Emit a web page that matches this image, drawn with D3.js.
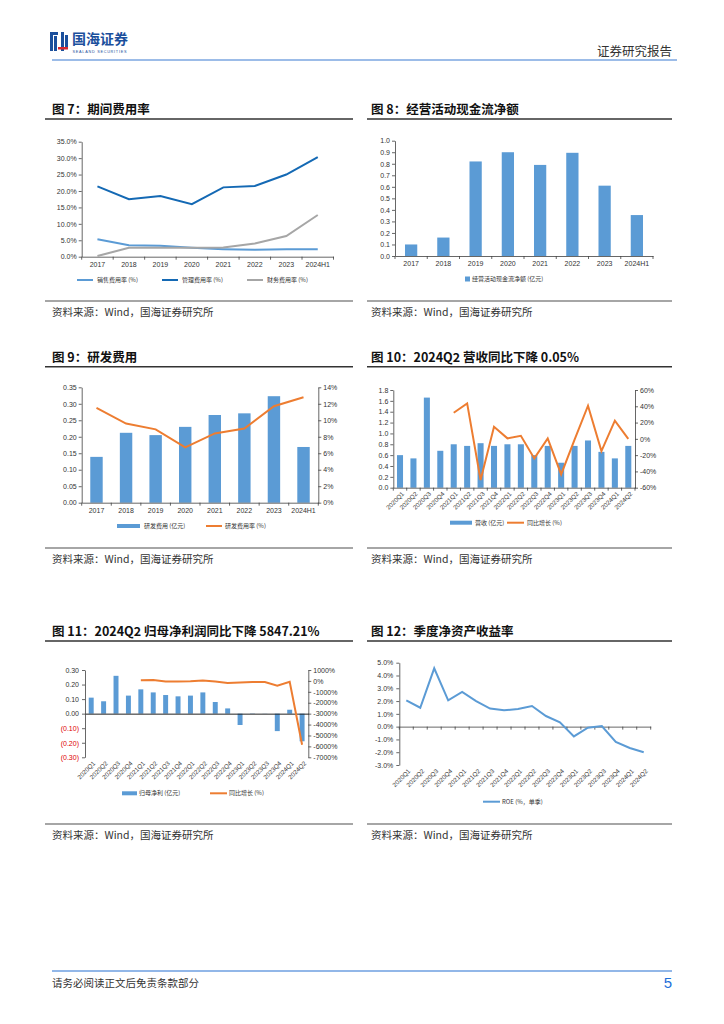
<!DOCTYPE html>
<html><head><meta charset="utf-8">
<script src="https://cdn.jsdelivr.net/npm/d3@7"></script>
<style>
body{margin:0;background:#fff;}
svg{display:block;}
</style></head><body>
<svg id="page" width="724" height="1024"></svg>
<script>
// ---------------- DATA ----------------
const years = ["2017","2018","2019","2020","2021","2022","2023","2024H1"];
const salesRate = [5.3,3.5,3.3,2.7,2.3,2.1,2.3,2.3];
const mgmtRate  = [21.4,17.5,18.5,16.0,21.1,21.5,25.0,30.3];
const finRate   = [0.2,2.7,2.7,2.7,2.8,4.0,6.3,12.7];
const rateTicks = [0,5,10,15,20,25,30,35];

const cfoValues = [0.10,0.16,0.82,0.90,0.79,0.895,0.61,0.355];
const cfoTicks = [0,0.1,0.2,0.3,0.4,0.5,0.6,0.7,0.8,0.9,1.0];

const rdExpense = [0.139,0.212,0.205,0.230,0.266,0.271,0.323,0.169];
const rdRate    = [11.5,9.6,8.9,6.7,8.4,9.0,11.7,12.8];
const rdLeftTicks = [0,0.05,0.10,0.15,0.20,0.25,0.30,0.35];
const rdRightTicks = [0,2,4,6,8,10,12,14];

const quarters = ["2020Q1","2020Q2","2020Q3","2020Q4","2021Q1","2021Q2","2021Q3","2021Q4",
  "2022Q1","2022Q2","2022Q3","2022Q4","2023Q1","2023Q2","2023Q3","2023Q4","2024Q1","2024Q2"];
const revenue = [0.60,0.54,1.66,0.68,0.80,0.77,0.82,0.77,0.80,0.80,0.60,0.77,0.46,0.77,0.87,0.66,0.54,0.77];
const revenueYoY = [null,null,null,null,32,43.6,-50.6,14.9,0.6,3.8,-24,0.6,-43.6,-1,40.7,-15,22.3,-0.05];
const revLeftTicks = [0,0.2,0.4,0.6,0.8,1.0,1.2,1.4,1.6,1.8];
const revRightTicks = [-60,-40,-20,0,20,40,60];

const netProfit = [0.11,0.085,0.26,0.124,0.167,0.146,0.128,0.119,0.124,0.146,0.08,0.036,-0.078,0.002,0.001,-0.12,0.027,-0.19];
const netProfitYoY = [null,null,null,null,60,90,-60,-60,-30,30,-60,-180,-150,-100,-100,-430,-90,-5847.21];
const npLeftTicks = [-0.3,-0.2,-0.1,0,0.1,0.2,0.3];
const npRightTicks = [-7000,-6000,-5000,-4000,-3000,-2000,-1000,0,1000];

const roe = [2.06,1.48,4.56,2.06,2.71,2.0,1.41,1.28,1.38,1.61,0.83,0.34,-0.76,-0.08,0.05,-1.2,-1.67,-2.0];
const roeTicks = [-3,-2,-1,0,1,2,3,4,5];

// ---------------- STYLE ----------------
const svg = d3.select("#page");
const AX = "#404040";
const NUM = "'Liberation Sans', Arial, sans-serif";
const CJK = "'Noto Sans CJK SC', sans-serif";
const BLUE = "#5B9BD5", DBLUE = "#1469B4", GRAY = "#A6A6A6", ORANGE = "#ED7D31";

function styleAxis(g, size){
  g.select(".domain").attr("stroke", AX).attr("stroke-width", 0.8);
  g.selectAll(".tick line").attr("stroke", AX).attr("stroke-width", 0.8);
  g.selectAll(".tick text").attr("fill", "#333").attr("font-size", size || 7).attr("font-family", NUM);
  return g;
}
function bandTicks(g, x, y, len){
  const r0 = x.range()[0], st = x.step();
  g.append("g").selectAll("line").data(d3.range(x.domain().length + 1)).join("line")
    .attr("x1", i => r0 + i * st).attr("x2", i => r0 + i * st)
    .attr("y1", y).attr("y2", y + len).attr("stroke", AX).attr("stroke-width", 0.8);
}
function rotateLabels(g){
  g.selectAll(".tick text").attr("x", 0).attr("y", 0).attr("dy", "0.35em")
    .attr("transform", "translate(3,5) rotate(-45)").style("text-anchor", "end");
}
function legendText(x, y, t){
  svg.append("text").attr("x", x).attr("y", y).attr("dy", "0.35em").attr("font-family", CJK)
    .attr("font-size", 6).attr("fill", "#333").text(t);
}
function legendLine(x0, x1, y, c){
  svg.append("line").attr("x1", x0).attr("x2", x1).attr("y1", y).attr("y2", y).attr("stroke", c).attr("stroke-width", 2);
}
function legendRect(x0, w, y, h, c){
  svg.append("rect").attr("x", x0).attr("y", y - h / 2).attr("width", w).attr("height", h).attr("fill", c);
}
function frame(x0, x1, tx, ruleY, srcY, title){
  svg.append("text").attr("x", tx).attr("y", ruleY - 5).attr("font-family", CJK).attr("font-weight", "bold")
    .attr("font-size", 12.5).attr("fill", "#111").text(title);
  svg.append("line").attr("x1", x0).attr("x2", x1).attr("y1", ruleY).attr("y2", ruleY).attr("stroke", "#333").attr("stroke-width", 1.6);
  svg.append("line").attr("x1", x0).attr("x2", x1).attr("y1", srcY).attr("y2", srcY).attr("stroke", "#888").attr("stroke-width", 1.4);
  svg.append("text").attr("x", tx).attr("y", srcY + 14.5).attr("font-family", CJK).attr("font-size", 10.5)
    .attr("fill", "#333").text("资料来源：Wind，国海证券研究所");
}

// ---------------- HEADER / FOOTER ----------------
const logo = svg.append("g");
const LB = "#1B4F9C";
[[50,32,3,19],[54,36,3,15],[50,32,8,3],[61,32,3,19],[65,35,3,13]].forEach(r =>
  logo.append("rect").attr("x", r[0]).attr("y", r[1]).attr("width", r[2]).attr("height", r[3]).attr("fill", LB));
logo.append("rect").attr("x", 58).attr("y", 47).attr("width", 10).attr("height", 2.5).attr("fill", "#D7282F");
logo.append("text").attr("x", 72).attr("y", 44).attr("font-family", CJK).attr("font-weight", "bold")
  .attr("font-size", 14).attr("fill", LB).text("国海证券");
logo.append("text").attr("x", 72.5).attr("y", 52.5).attr("font-family", NUM).attr("font-size", 3.8)
  .attr("textLength", 54).attr("fill", LB).text("SEALAND SECURITIES");
svg.append("text").attr("x", 672).attr("y", 56).attr("text-anchor", "end").attr("font-family", CJK)
  .attr("font-size", 12.5).attr("fill", "#333").text("证券研究报告");
svg.append("line").attr("x1", 52).attr("x2", 677).attr("y1", 60).attr("y2", 60).attr("stroke", "#9CBCE8").attr("stroke-width", 2);

svg.append("line").attr("x1", 52).attr("x2", 672).attr("y1", 971).attr("y2", 971).attr("stroke", "#6E9FE0").attr("stroke-width", 1.5);
svg.append("text").attr("x", 52).attr("y", 986.5).attr("font-family", CJK).attr("font-size", 10.5)
  .attr("fill", "#333").text("请务必阅读正文后免责条款部分");
svg.append("text").attr("x", 672).attr("y", 988).attr("text-anchor", "end").attr("font-family", NUM)
  .attr("font-size", 15).attr("fill", "#1E6FD9").text("5");

// ---------------- FRAMES ----------------
frame(45, 353, 52, 119, 301, "图 7：期间费用率");
frame(367, 672, 371, 119, 301, "图 8：经营活动现金流净额");
frame(45, 353, 52, 366.7, 548, "图 9：研发费用");
frame(367, 672, 371, 366.7, 548, "图 10：2024Q2 营收同比下降 0.05%");
frame(45, 353, 52, 641, 824, "图 11：2024Q2 归母净利润同比下降 5847.21%");
frame(367, 672, 371, 641, 824, "图 12：季度净资产收益率");

// ---------------- CHART 7 ----------------
{
  const x = d3.scaleBand().domain(years).range([81.7, 333.5]);
  const y = d3.scaleLinear().domain([0, 35]).range([256.7, 141.7]);
  const g = svg.append("g");
  styleAxis(g.append("g").attr("transform", "translate(81.7,0)")
    .call(d3.axisLeft(y).tickValues(rateTicks).tickFormat(d => d.toFixed(1) + "%").tickSize(3).tickSizeOuter(0).tickPadding(2)));
  styleAxis(g.append("g").attr("transform", "translate(0,256.7)")
    .call(d3.axisBottom(x).tickSize(0).tickSizeOuter(0).tickPadding(5)));
  bandTicks(g, x, 256.7, 3);
  const cx = i => x(years[i]) + x.bandwidth() / 2;
  const line = d3.line().x((d, i) => cx(i)).y(d => y(d));
  [[salesRate, BLUE], [mgmtRate, DBLUE], [finRate, GRAY]].forEach(s =>
    g.append("path").datum(s[0]).attr("d", line).attr("fill", "none").attr("stroke", s[1]).attr("stroke-width", 2));
  legendLine(77, 93, 280, BLUE); legendText(97, 280, "销售费用率 (%)");
  legendLine(162, 178, 280, DBLUE); legendText(182, 280, "管理费用率 (%)");
  legendLine(247, 263, 280, GRAY); legendText(267, 280, "财务费用率 (%)");
}

// ---------------- CHART 8 ----------------
{
  const x = d3.scaleBand().domain(years).range([395, 653]).paddingInner(0.62).paddingOuter(0.31);
  const y = d3.scaleLinear().domain([0, 1]).range([256, 140.7]);
  const g = svg.append("g");
  g.selectAll("rect").data(cfoValues).join("rect")
    .attr("x", (d, i) => x(years[i])).attr("width", x.bandwidth())
    .attr("y", d => y(d)).attr("height", d => y(0) - y(d)).attr("fill", BLUE);
  styleAxis(g.append("g").attr("transform", "translate(395,0)")
    .call(d3.axisLeft(y).tickValues(cfoTicks).tickFormat(d => d.toFixed(1)).tickSize(3).tickSizeOuter(0).tickPadding(2)));
  styleAxis(g.append("g").attr("transform", "translate(0,256)")
    .call(d3.axisBottom(x).tickSize(0).tickSizeOuter(0).tickPadding(5)));
  bandTicks(g, x, 256, 3);
  legendRect(465, 5, 279, 5, BLUE); legendText(472, 279, "经营活动现金流净额 (亿元)");
}

// ---------------- CHART 9 ----------------
{
  const x = d3.scaleBand().domain(years).range([81.7, 318.3]).paddingInner(0.58).paddingOuter(0.29);
  const y = d3.scaleLinear().domain([0, 0.35]).range([502.7, 387.3]);
  const y2 = d3.scaleLinear().domain([0, 14]).range([502.7, 387.3]);
  const g = svg.append("g");
  g.selectAll("rect").data(rdExpense).join("rect")
    .attr("x", (d, i) => x(years[i])).attr("width", x.bandwidth())
    .attr("y", d => y(d)).attr("height", d => y(0) - y(d)).attr("fill", BLUE);
  styleAxis(g.append("g").attr("transform", "translate(81.7,0)")
    .call(d3.axisLeft(y).tickValues(rdLeftTicks).tickFormat(d => d.toFixed(2)).tickSize(3).tickSizeOuter(0).tickPadding(2)));
  styleAxis(g.append("g").attr("transform", "translate(318.3,0)")
    .call(d3.axisRight(y2).tickValues(rdRightTicks).tickFormat(d => d + "%").tickSize(3).tickSizeOuter(0).tickPadding(2)));
  styleAxis(g.append("g").attr("transform", "translate(0,502.7)")
    .call(d3.axisBottom(x).tickSize(0).tickSizeOuter(0).tickPadding(5)));
  bandTicks(g, x, 502.7, 3);
  const line = d3.line().x((d, i) => x(years[i]) + x.bandwidth() / 2).y(d => y2(d));
  g.append("path").datum(rdRate).attr("d", line).attr("fill", "none").attr("stroke", ORANGE).attr("stroke-width", 2);
  legendRect(117, 23, 526, 4, BLUE); legendText(144, 526, "研发费用 (亿元)");
  legendLine(206, 222, 526, ORANGE); legendText(225, 526, "研发费用率 (%)");
}

// ---------------- CHART 10 ----------------
{
  const x = d3.scaleBand().domain(quarters).range([393.3, 635]).paddingInner(0.55).paddingOuter(0.275);
  const y = d3.scaleLinear().domain([0, 1.8]).range([487.7, 390]);
  const y2 = d3.scaleLinear().domain([-60, 60]).range([487.7, 390]);
  const g = svg.append("g");
  g.selectAll("rect").data(revenue).join("rect")
    .attr("x", (d, i) => x(quarters[i])).attr("width", x.bandwidth())
    .attr("y", d => y(d)).attr("height", d => y(0) - y(d)).attr("fill", BLUE);
  styleAxis(g.append("g").attr("transform", "translate(393.3,0)")
    .call(d3.axisLeft(y).tickValues(revLeftTicks).tickFormat(d => d.toFixed(1)).tickSize(3).tickSizeOuter(0).tickPadding(2)));
  styleAxis(g.append("g").attr("transform", "translate(635,0)")
    .call(d3.axisRight(y2).tickValues(revRightTicks).tickFormat(d => d + "%").tickSize(3).tickSizeOuter(0).tickPadding(2)));
  const xa = styleAxis(g.append("g").attr("transform", "translate(0,487.7)")
    .call(d3.axisBottom(x).tickSize(0).tickSizeOuter(0)), 6.3);
  rotateLabels(xa);
  bandTicks(g, x, 487.7, 3);
  const line = d3.line().defined(d => d !== null).x((d, i) => x(quarters[i]) + x.bandwidth() / 2).y(d => y2(d));
  g.append("path").datum(revenueYoY).attr("d", line).attr("fill", "none").attr("stroke", ORANGE).attr("stroke-width", 2);
  legendRect(450, 22, 522.7, 4, BLUE); legendText(475, 522.7, "营收 (亿元)");
  legendLine(507, 524, 522.7, ORANGE); legendText(527, 522.7, "同比增长 (%)");
}

// ---------------- CHART 11 ----------------
{
  const x = d3.scaleBand().domain(quarters).range([85, 308.3]).paddingInner(0.6).paddingOuter(0.3);
  const y = d3.scaleLinear().domain([-0.3, 0.3]).range([757.3, 670]);
  const y2 = d3.scaleLinear().domain([-7000, 1000]).range([757.3, 670]);
  const g = svg.append("g");
  g.selectAll("rect").data(netProfit).join("rect")
    .attr("x", (d, i) => x(quarters[i])).attr("width", x.bandwidth())
    .attr("y", d => y(Math.max(0, d))).attr("height", d => Math.abs(y(d) - y(0))).attr("fill", BLUE);
  const la = styleAxis(g.append("g").attr("transform", "translate(85,0)")
    .call(d3.axisLeft(y).tickValues(npLeftTicks)
      .tickFormat(d => d < 0 ? "(" + Math.abs(d).toFixed(2) + ")" : d.toFixed(2)).tickSize(3).tickSizeOuter(0).tickPadding(3)));
  la.selectAll(".tick text").attr("fill", d => d < 0 ? "#E00000" : "#333");
  styleAxis(g.append("g").attr("transform", "translate(308.3,0)")
    .call(d3.axisRight(y2).tickValues(npRightTicks).tickFormat(d => d + "%").tickSize(3).tickSizeOuter(0).tickPadding(2)));
  const xa = styleAxis(g.append("g").attr("transform", "translate(0,757.3)")
    .call(d3.axisBottom(x).tickSize(0).tickSizeOuter(0)), 6.3);
  xa.select(".domain").remove();
  rotateLabels(xa);
  styleAxis(g.append("g").attr("transform", "translate(0," + y(0) + ")")
    .call(d3.axisBottom(x).tickSize(0).tickSizeOuter(0).tickFormat(""))).select(".domain").attr("stroke", "#222").attr("stroke-width", 1);
  const line = d3.line().defined(d => d !== null).x((d, i) => x(quarters[i]) + x.bandwidth() / 2).y(d => y2(d));
  g.append("path").datum(netProfitYoY).attr("d", line).attr("fill", "none").attr("stroke", ORANGE).attr("stroke-width", 2);
  legendRect(122, 15, 793.3, 4, BLUE); legendText(139, 793.3, "归母净利 (亿元)");
  legendLine(210, 227, 793.3, ORANGE); legendText(229, 793.3, "同比增长 (%)");
}

// ---------------- CHART 12 ----------------
{
  const x = d3.scaleBand().domain(quarters).range([399.3, 650.7]);
  const y = d3.scaleLinear().domain([-3, 5]).range([765, 662.7]);
  const g = svg.append("g");
  styleAxis(g.append("g").attr("transform", "translate(399.3,0)")
    .call(d3.axisLeft(y).tickValues(roeTicks).tickFormat(d => d.toFixed(1) + "%").tickSize(3).tickSizeOuter(0).tickPadding(3)));
  const xa = styleAxis(g.append("g").attr("transform", "translate(0,765)")
    .call(d3.axisBottom(x).tickSize(0).tickSizeOuter(0)), 6.3);
  xa.select(".domain").remove();
  rotateLabels(xa);
  styleAxis(g.append("g").attr("transform", "translate(0," + y(0) + ")")
    .call(d3.axisBottom(x).tickSize(0).tickSizeOuter(0).tickFormat("")));
  bandTicks(g, x, y(0), 3);
  const line = d3.line().x((d, i) => x(quarters[i]) + x.bandwidth() / 2).y(d => y(d));
  g.append("path").datum(roe).attr("d", line).attr("fill", "none").attr("stroke", BLUE).attr("stroke-width", 2);
  legendLine(483, 500, 801.7, BLUE); legendText(502, 801.7, "ROE (%，单季)");
}
</script>
</body></html>
